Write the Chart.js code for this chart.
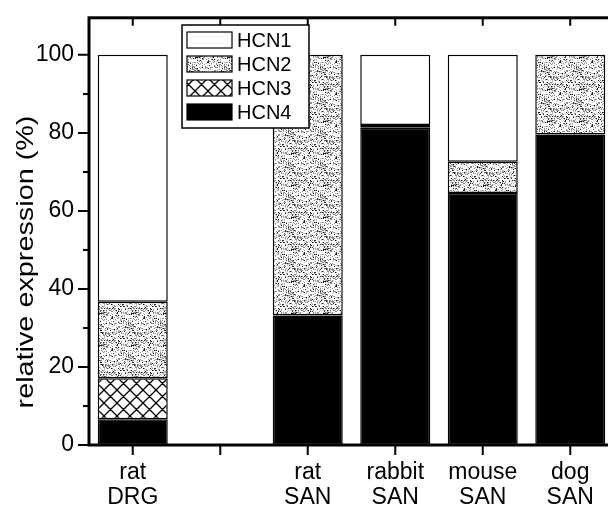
<!DOCTYPE html>
<html>
<head>
<meta charset="utf-8">
<script src="https://cdn.jsdelivr.net/npm/chart.js@4.4.0/dist/chart.umd.min.js"></script>
<style>
  html, body { margin: 0; padding: 0; background: #fff; overflow: hidden; }
  #wrap { position: relative; width: 620px; height: 508px; }
</style>
</head>
<body>
<div id="wrap"><canvas id="chart" width="620" height="508"></canvas></div>
<script>
// categories (the empty one is the gap between DRG and the SAN group)
const categories = [['rat', 'DRG'], '', ['rat', 'SAN'], ['rabbit', 'SAN'], ['mouse', 'SAN'], ['dog', 'SAN']];

// relative expression (%) per isoform
const hcn1 = [63.3, null, 0, 18.0, 27.4, 0];
const hcn2 = [19.6, null, 66.8, 0.7, 8.0, 20.4];
const hcn3 = [10.5, null, 0, 0, 0, 0];
const hcn4 = [6.6, null, 33.2, 81.3, 64.6, 79.6];

const yMajorTicks = [0, 20, 40, 60, 80, 100];
const yMinorTicks = [10, 30, 50, 70, 90];

const FONT = '"Liberation Sans", Arial, sans-serif';

// stippled fill for HCN2 (fixed hash texture)
function makeStipple() {
    const s = 32;
    const c = document.createElement('canvas');
    c.width = s; c.height = s;
    const g = c.getContext('2d');
    g.fillStyle = '#fff';
    g.fillRect(0, 0, s, s);
    for (let x = 0; x < s; x++) {
        for (let y = 0; y < s; y++) {
            const v = Math.sin(x * 12.9898 + y * 78.233) * 43758.5453;
            const h = v - Math.floor(v);
            if (h < 0.22) { g.fillStyle = '#8f8f8f'; g.fillRect(x, y, 1, 1); }
            else if (h < 0.30) { g.fillStyle = '#1e1e1e'; g.fillRect(x, y, 1, 1); }
            else if (h < 0.40) { g.fillStyle = '#cfcfcf'; g.fillRect(x, y, 1, 1); }
        }
    }
    return g.createPattern(c, 'repeat');
}

// cross hatch fill for HCN3
function makeCrossHatch() {
    const s = 13;
    const c = document.createElement('canvas');
    c.width = s; c.height = s;
    const g = c.getContext('2d');
    g.fillStyle = '#fff';
    g.fillRect(0, 0, s, s);
    g.strokeStyle = '#000';
    g.lineWidth = 1.3;
    g.beginPath();
    for (const o of [-s, 0, s]) {
        g.moveTo(o, 0); g.lineTo(o + s, s);
        g.moveTo(o + s, 0); g.lineTo(o, s);
    }
    g.stroke();
    return g.createPattern(c, 'repeat');
}

const stipple = makeStipple();
const hatch = makeCrossHatch();

// frame, tick marks, y title and the legend box
const decorPlugin = {
    id: 'decor',
    afterDatasetsDraw(chart) {
        const { ctx, chartArea: a, scales: { x, y } } = chart;
        ctx.save();
        ctx.strokeStyle = '#000';
        ctx.lineWidth = 3;
        ctx.strokeRect(a.left, a.top, a.right - a.left, a.bottom - a.top);

        ctx.lineWidth = 2;
        ctx.beginPath();
        yMajorTicks.forEach(v => {
            const py = y.getPixelForValue(v);
            ctx.moveTo(a.left - 11, py); ctx.lineTo(a.left, py);
        });
        yMinorTicks.forEach(v => {
            const py = y.getPixelForValue(v);
            ctx.moveTo(a.left - 6, py); ctx.lineTo(a.left, py);
        });
        categories.forEach((c, i) => {
            const px = x.getPixelForValue(i);
            ctx.moveTo(px, a.bottom); ctx.lineTo(px, a.bottom + 10);
            ctx.moveTo(px, a.top); ctx.lineTo(px, a.top + 8);
        });
        ctx.stroke();
        ctx.restore();

        // y axis title
        ctx.save();
        ctx.translate(26, 262);
        ctx.rotate(-Math.PI / 2);
        ctx.scale(1.2, 1);
        ctx.font = '24px ' + FONT;
        ctx.fillStyle = '#000';
        ctx.textAlign = 'center';
        ctx.textBaseline = 'middle';
        ctx.fillText('relative expression (%)', 0, 0);
        ctx.restore();

        // legend (top item = top of the stack)
        const items = chart.data.datasets.slice().reverse();
        ctx.save();
        ctx.fillStyle = '#fff';
        ctx.fillRect(182, 25, 127, 103);
        ctx.strokeStyle = '#000';
        ctx.lineWidth = 1.5;
        ctx.strokeRect(182, 25, 127, 103);
        ctx.font = '20px ' + FONT;
        ctx.textBaseline = 'middle';
        items.forEach((ds, i) => {
            const top = 32 + i * 24;
            ctx.fillStyle = ds.backgroundColor;
            ctx.fillRect(187, top, 45, 16);
            ctx.lineWidth = 1.2;
            ctx.strokeRect(187, top, 45, 16);
            ctx.fillStyle = '#000';
            ctx.fillText(ds.label, 237, top + 9);
        });
        ctx.restore();
    }
};

function barSet(label, data, fill) {
    return {
        label: label,
        data: data,
        backgroundColor: fill,
        borderColor: '#000',
        borderWidth: 1.5,
        borderSkipped: false,
        barPercentage: 0.8,
        categoryPercentage: 1.0
    };
}

new Chart(document.getElementById('chart'), {
    type: 'bar',
    data: {
        labels: categories,
        datasets: [
            barSet('HCN4', hcn4, '#000'),
            barSet('HCN3', hcn3, hatch),
            barSet('HCN2', hcn2, stipple),
            barSet('HCN1', hcn1, '#fff')
        ]
    },
    options: {
        responsive: false,
        animation: false,
        devicePixelRatio: 1,
        layout: { padding: { top: 14, right: 6, left: 0, bottom: 0 } },
        plugins: {
            legend: { display: false },
            tooltip: { enabled: false }
        },
        scales: {
            x: {
                stacked: true,
                offset: true,
                grid: { display: false, drawTicks: true, tickLength: 10 },
                border: { display: false },
                ticks: {
                    color: '#000',
                    font: { family: FONT, size: 23, lineHeight: 1.1 },
                    padding: 5,
                    maxRotation: 0,
                    autoSkip: false
                },
                afterFit(scale) { scale.height = 63; }
            },
            y: {
                stacked: true,
                min: 0,
                max: 109.5,
                grid: { display: false, drawTicks: true, tickLength: 11 },
                border: { display: false },
                ticks: {
                    stepSize: 20,
                    includeBounds: false,
                    color: '#000',
                    font: { family: FONT, size: 23 },
                    padding: 4
                },
                afterFit(scale) { scale.width = 89; }
            }
        }
    },
    plugins: [decorPlugin]
});
</script>
</body>
</html>
